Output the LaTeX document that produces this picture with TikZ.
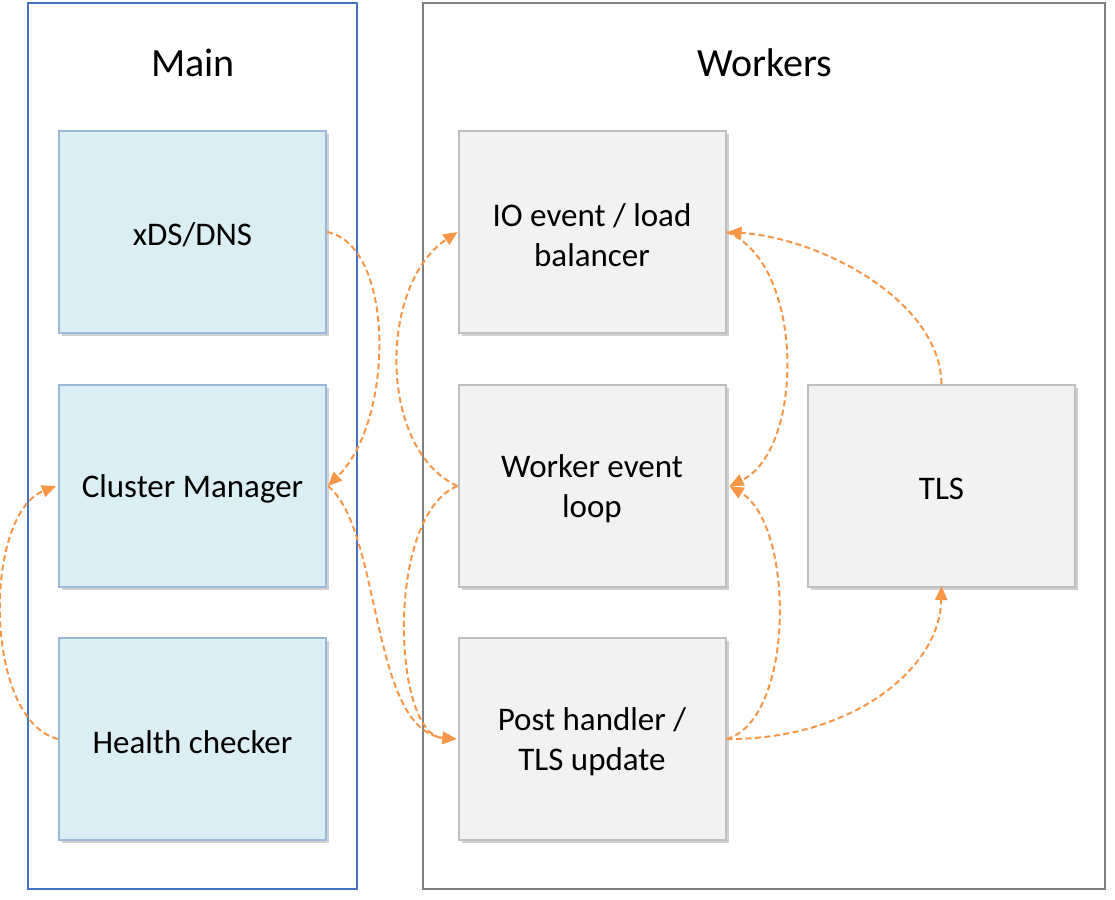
\documentclass[tikz,border=0pt]{standalone}
\usepackage{fontspec}
\setmainfont{Carlito}
\usetikzlibrary{arrows.meta,shadows}
\definecolor{mainblue}{HTML}{4472C4}
\definecolor{lbfill}{HTML}{DAEEF3}
\definecolor{lbdraw}{HTML}{9BB7DA}
\definecolor{gbfill}{HTML}{F2F2F2}
\definecolor{gbdraw}{HTML}{BFBFBF}
\definecolor{wkdraw}{HTML}{808080}
\definecolor{arrorange}{HTML}{F79646}
\tikzset{
  container/.style={draw, line width=1.5pt, minimum width=#1, inner sep=0pt, fill=white},
  title/.style={font=\fontsize{40}{48}\selectfont},
  txt/.style={align=center, font=\fontsize{33}{40}\selectfont, yshift=-3pt, inner sep=0pt},
  box/.style={line width=2pt, minimum width=267pt, minimum height=202pt, inner sep=0pt,
    drop shadow={shadow xshift=3pt, shadow yshift=-3pt, opacity=0.18, fill=black}},
  mainbox/.style={box, draw=lbdraw, fill=lbfill},
  workbox/.style={box, draw=gbdraw, fill=gbfill},
  flow/.style={draw=arrorange, line width=2pt, dash pattern=on 6pt off 3.5pt,
    -{Triangle[length=14pt,width=12pt]}, arrorange}
}
\begin{document}
\begin{tikzpicture}[x=1pt,y=-1pt]
\useasboundingbox (0,0) rectangle (1115,899);
\node[container=329pt, draw=mainblue, minimum height=886pt] (mainc) at (192.5,446) {};
\node[container=682pt, draw=wkdraw, minimum height=886pt] (workc) at (764,446) {};
\node[title] (maint) at (193,63) {Main};
\node[title] (workt) at (765,63) {Workers};

\node[mainbox, label={[txt, name=xdst]center:xDS/DNS}] (xds) at (192.5,232) {};
\node[mainbox, label={[txt, name=cmt]center:Cluster Manager}] (cm) at (192.5,486) {};
\node[mainbox, label={[txt, name=hct]center:Health checker}] (hc) at (192.5,739) {};

\node[workbox, label={[txt, name=iot]center:IO event / load\\balancer}] (io) at (592,232) {};
\node[workbox, label={[txt, name=welt]center:Worker event\\loop}] (wel) at (592,486) {};
\node[workbox, label={[txt, name=pht]center:Post handler /\\TLS update}] (ph) at (592,739) {};
\node[workbox, label={[txt, name=tlst]center:TLS}] (tls) at (941.5,486) {};

\draw[flow] (xds.east) .. controls (395,245) and (395,420) .. ([xshift=1pt]cm.east);
\draw[flow] (wel.west) .. controls (378,450) and (378,285) .. (io.west);
\draw[flow] ([xshift=1pt]cm.east) .. controls (382,530) and (370,730) .. ([xshift=-1pt]ph.west);
\draw[flow] (wel.west) .. controls (385,515) and (392,735) .. ([xshift=-1pt]ph.west);
\draw[flow] (hc.west) .. controls (-17,720) and (-17,515) .. ([xshift=-2pt]cm.west);
\draw[flow] (io.east) .. controls (805,262) and (805,450) .. ([xshift=3pt]wel.east);
\draw[flow] (ph.east) .. controls (795,720) and (795,525) .. ([xshift=3pt]wel.east);
\draw[flow] (ph.east) .. controls (850,740) and (940,670) .. ([yshift=2pt]tls.south);
\draw[flow] (tls.north) .. controls (940,300) and (820,238) .. ([xshift=1pt]io.east);
\end{tikzpicture}
\end{document}
